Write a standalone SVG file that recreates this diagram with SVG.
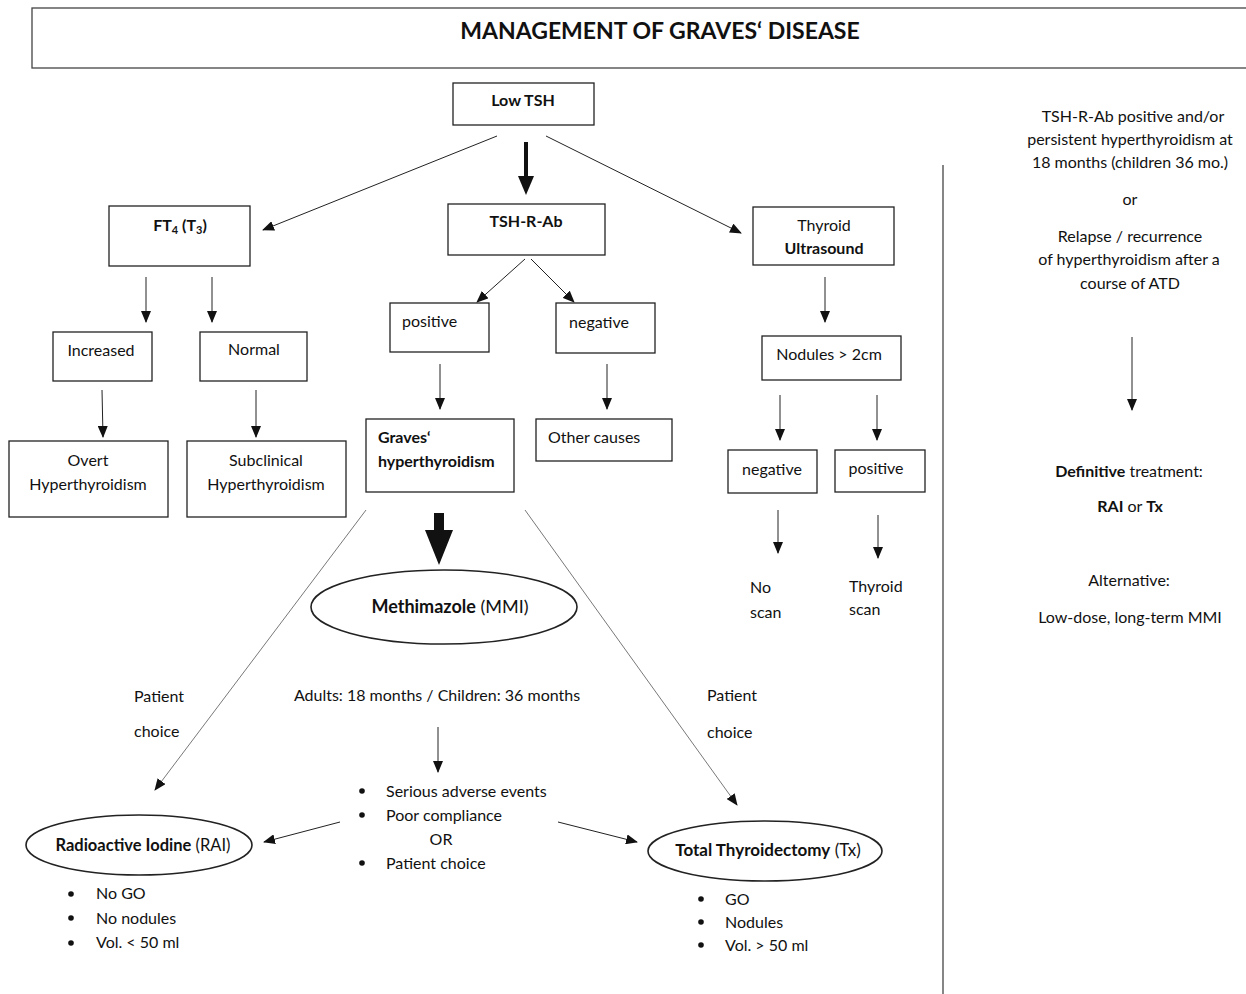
<svg xmlns="http://www.w3.org/2000/svg" width="1246" height="994" viewBox="0 0 1246 994">
<style>
text{font-family:Lato,"Open Sans","Liberation Sans",sans-serif;font-size:16px;fill:#111}
.b{font-weight:bold}
.c{text-anchor:middle}
.box{fill:#fff;stroke:#222;stroke-width:1.3}
.ell{fill:#fff;stroke:#222;stroke-width:1.6}
.ln{stroke:#222;stroke-width:1;fill:none}
.lt{stroke:#555;stroke-width:0.8;fill:none}
.dot{fill:#111}
</style>
<defs>
<marker id="ah" markerUnits="userSpaceOnUse" markerWidth="12" markerHeight="10" refX="11" refY="5" orient="auto">
<path d="M0,0 L12,5 L0,10 Z" fill="#111"/>
</marker>
</defs>
<rect width="1246" height="994" fill="#fff"/>
<g id="title">
<rect x="32" y="8" width="1230" height="60" fill="#fff" stroke="#444" stroke-width="1.3"/>
<text class="b c" x="660" y="39" style="font-size:23px">MANAGEMENT OF GRAVES‘ DISEASE</text>
</g>
<g id="connectors">
<path d="M526,142 V178" stroke="#111" stroke-width="4"/>
<path d="M518,176 L534,176 L526,195 Z" fill="#111"/>
<line class="ln" x1="497" y1="136" x2="263" y2="230" marker-end="url(#ah)"/>
<line class="ln" x1="546" y1="136" x2="741" y2="233" marker-end="url(#ah)"/>
<line class="ln" x1="146" y1="277" x2="146" y2="322" marker-end="url(#ah)"/>
<line class="ln" x1="212" y1="277" x2="212" y2="322" marker-end="url(#ah)"/>
<line class="ln" x1="102" y1="390" x2="103" y2="437" marker-end="url(#ah)"/>
<line class="ln" x1="256" y1="390" x2="256" y2="437" marker-end="url(#ah)"/>
<line class="ln" x1="525" y1="259" x2="477" y2="302" marker-end="url(#ah)"/>
<line class="ln" x1="531" y1="259" x2="574" y2="302" marker-end="url(#ah)"/>
<line class="ln" x1="440" y1="364" x2="440" y2="409" marker-end="url(#ah)"/>
<line class="ln" x1="607" y1="364" x2="607" y2="409" marker-end="url(#ah)"/>
<path d="M439,513 V535" stroke="#111" stroke-width="10"/>
<path d="M425,530 L453,530 L439,565 Z" fill="#111"/>
<line class="lt" x1="366" y1="510" x2="155" y2="790" marker-end="url(#ah)"/>
<line class="lt" x1="525" y1="510" x2="737" y2="805" marker-end="url(#ah)"/>
<line class="ln" x1="438" y1="727" x2="438" y2="772" marker-end="url(#ah)"/>
<line class="ln" x1="340" y1="822" x2="264" y2="842" marker-end="url(#ah)"/>
<line class="ln" x1="558" y1="822" x2="637" y2="842" marker-end="url(#ah)"/>
<line class="ln" x1="825" y1="277" x2="825" y2="322" marker-end="url(#ah)"/>
<line class="ln" x1="780" y1="395" x2="780" y2="440" marker-end="url(#ah)"/>
<line class="ln" x1="877" y1="395" x2="877" y2="440" marker-end="url(#ah)"/>
<line class="ln" x1="778" y1="510" x2="778" y2="553" marker-end="url(#ah)"/>
<line class="ln" x1="878" y1="515" x2="878" y2="558" marker-end="url(#ah)"/>
<line class="ln" x1="1132" y1="337" x2="1132" y2="410" marker-end="url(#ah)"/>
<line x1="943" y1="165" x2="943" y2="994" stroke="#444" stroke-width="1.3"/>
</g>
<g id="lowtsh"><rect class="box" x="453" y="83" width="141" height="42"/><text class="b c" x="523" y="106">Low TSH</text></g>
<g id="ft4"><rect class="box" x="109" y="206" width="141" height="60"/><text class="b c" x="180" y="231">FT<tspan style="font-size:11px" dy="3">4</tspan><tspan dy="-3"> (T</tspan><tspan style="font-size:11px" dy="3">3</tspan><tspan dy="-3">)</tspan></text></g>
<g id="tshrab"><rect class="box" x="448" y="204" width="157" height="51"/><text class="b c" x="526" y="227">TSH-R-Ab</text></g>
<g id="us"><rect class="box" x="753" y="207" width="141" height="58"/><text class="c" x="824" y="231">Thyroid</text><text class="b c" x="824" y="254">Ultrasound</text></g>
<g id="increased"><rect class="box" x="53" y="332" width="99" height="49"/><text class="c" x="101" y="356">Increased</text></g>
<g id="normal"><rect class="box" x="200" y="332" width="107" height="49"/><text class="c" x="254" y="355">Normal</text></g>
<g id="overt"><rect class="box" x="9" y="441" width="159" height="76"/><text class="c" x="88" y="466">Overt</text><text class="c" x="88" y="490">Hyperthyroidism</text></g>
<g id="subclinical"><rect class="box" x="187" y="441" width="159" height="76"/><text class="c" x="266" y="466">Subclinical</text><text class="c" x="266" y="490">Hyperthyroidism</text></g>
<g id="pos1"><rect class="box" x="390" y="303" width="99" height="49"/><text x="402" y="327">positive</text></g>
<g id="neg1"><rect class="box" x="556" y="303" width="99" height="50"/><text x="569" y="328">negative</text></g>
<g id="graves"><rect class="box" x="366" y="419" width="148" height="73"/><text class="b" x="378" y="443">Graves‘</text><text class="b" x="378" y="467">hyperthyroidism</text></g>
<g id="other"><rect class="box" x="536" y="419" width="136" height="42"/><text x="548" y="443">Other causes</text></g>
<g id="mmi"><ellipse class="ell" cx="444" cy="607" rx="133" ry="37"/><text class="c" x="450" y="613" style="font-size:18px"><tspan class="b">Methimazole</tspan> (MMI)</text></g>
<g id="labels">
<text x="134" y="702">Patient</text><text x="134" y="737">choice</text>
<text x="707" y="701">Patient</text><text x="707" y="738">choice</text>
<text class="c" x="437" y="701">Adults: 18 months / Children: 36 months</text>
</g>
<g id="reasons">
<circle class="dot" cx="362" cy="791" r="2.8"/><text x="386" y="797">Serious adverse events</text>
<circle class="dot" cx="362" cy="815" r="2.8"/><text x="386" y="821">Poor compliance</text>
<text class="c" x="441" y="845">OR</text>
<circle class="dot" cx="362" cy="863" r="2.8"/><text x="386" y="869">Patient choice</text>
</g>
<g id="rai"><ellipse class="ell" cx="139" cy="845" rx="113" ry="30"/><text class="c" x="143" y="851" style="font-size:16.5px"><tspan class="b">Radioactive Iodine</tspan> (RAI)</text>
<circle class="dot" cx="71" cy="894" r="2.8"/><text x="96" y="899">No GO</text>
<circle class="dot" cx="71" cy="918" r="2.8"/><text x="96" y="924">No nodules</text>
<circle class="dot" cx="71" cy="943" r="2.8"/><text x="96" y="948">Vol. &lt; 50 ml</text>
</g>
<g id="tx"><ellipse class="ell" cx="765" cy="851" rx="117" ry="30"/><text class="c" x="768" y="856" style="font-size:17px"><tspan class="b">Total Thyroidectomy</tspan> (Tx)</text>
<circle class="dot" cx="701" cy="899" r="2.8"/><text x="725" y="905">GO</text>
<circle class="dot" cx="701" cy="922" r="2.8"/><text x="725" y="928">Nodules</text>
<circle class="dot" cx="701" cy="945" r="2.8"/><text x="725" y="951">Vol. &gt; 50 ml</text>
</g>
<g id="nodules"><rect class="box" x="762" y="336" width="139" height="44"/><text class="c" x="829" y="360">Nodules &gt; 2cm</text></g>
<g id="neg2"><rect class="box" x="728" y="450" width="89" height="43"/><text class="c" x="772" y="475">negative</text></g>
<g id="pos2"><rect class="box" x="835" y="450" width="90" height="42"/><text class="c" x="876" y="474">positive</text></g>
<g id="noscan"><text x="750" y="593">No</text><text x="750" y="618">scan</text></g>
<g id="thyscan"><text x="849" y="592">Thyroid</text><text x="849" y="615">scan</text></g>
<g id="right">
<text class="c" x="1133" y="122">TSH-R-Ab positive and/or</text>
<text class="c" x="1130" y="145">persistent hyperthyroidism at</text>
<text class="c" x="1130" y="168">18 months (children 36 mo.)</text>
<text class="c" x="1130" y="205">or</text>
<text class="c" x="1130" y="242">Relapse / recurrence</text>
<text class="c" x="1129" y="265">of hyperthyroidism after a</text>
<text class="c" x="1130" y="289">course of ATD</text>
<text class="c" x="1129" y="477"><tspan class="b">Definitive</tspan> treatment:</text>
<text class="c" x="1130" y="512"><tspan class="b">RAI</tspan> or <tspan class="b">Tx</tspan></text>
<text class="c" x="1129" y="586">Alternative:</text>
<text class="c" x="1130" y="623">Low-dose, long-term MMI</text>
</g>
</svg>
